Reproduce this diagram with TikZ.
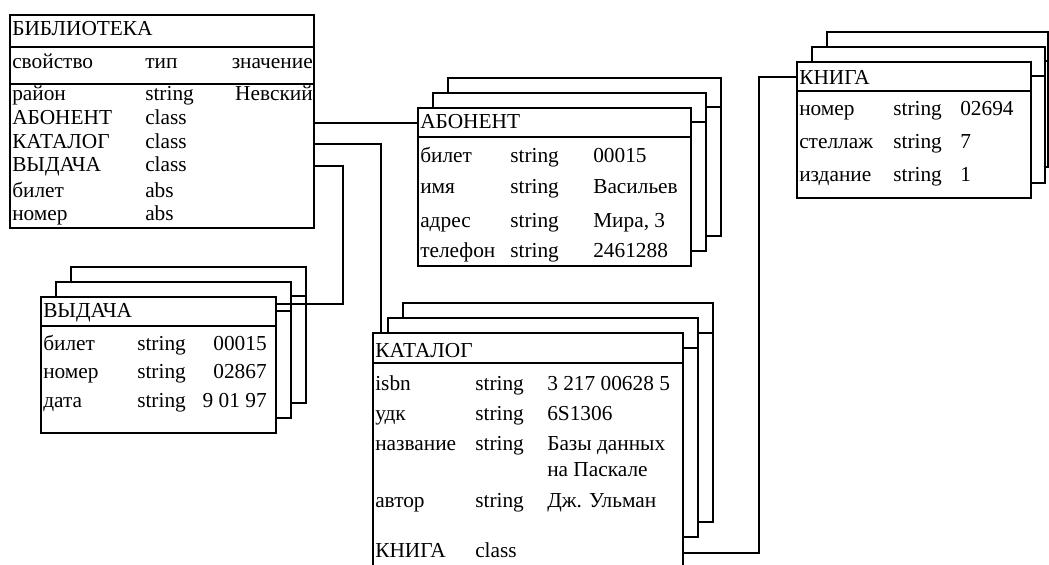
\documentclass[tikz,border=0pt]{standalone}
\usepackage{fontspec}
\setmainfont{Liberation Serif}
\newfontfamily\tnr{Liberation Serif}
\newcommand{\backcard}[5]{%
  \draw[box] (#1,#2) rectangle ++(#3,#4);
  \draw[box] (#1,{#2+#5}) -- ++(#3,0);}
\newcommand{\frontcard}[6]{%
  \node[cell, minimum width={#4*0.75pt}, minimum height={#5*0.75pt}] (#1) at (#2,#3) {};
  \node[cell, minimum width={#4*0.75pt}, minimum height={#6*0.75pt}] (#1H) at (#2,#3) {};}
\begin{document}
\begin{tikzpicture}[x=0.75pt,y=-0.75pt,
  box/.style={draw=black, line width=1.5pt, fill=white},
  cell/.style={draw=black, fill=white, line width=1.5pt, inner sep=0pt, outer sep=0pt, anchor=north west},
  txt/.style={anchor=base west, inner sep=0pt, font=\tnr\fontsize{16}{19}\selectfont},
  txtr/.style={anchor=base east, inner sep=0pt, font=\tnr\fontsize{16}{19}\selectfont},
  wire/.style={draw=black, line width=1.5pt}]
\useasboundingbox (0,0) rectangle (1049,564);
\clip (0,0) rectangle (1049,564);

% ---------- БИБЛИОТЕКА ----------
\frontcard{lib}{10}{15}{304}{213}{32}
\draw[box] (10,84) -- (314,84);
\node[txt] (libT) at (12,36) {БИБЛИОТЕКА};
\node[txt] (lh1) at (12,68) {свойство};
\node[txt] (lh2) at (145,68) {тип};
\node[txtr] (lh3) at (313,68) {значение};
\node[txt] (l1a) at (12,100) {район};
\node[txt] (l1b) at (145,100) {string};
\node[txtr] (l1c) at (313,100) {Невский};
\node[txt] (l2a) at (12,124) {АБОНЕНТ};
\node[txt] (l2b) at (145,124) {class};
\node[txt] (l3a) at (12,148) {КАТАЛОГ};
\node[txt] (l3b) at (145,148) {class};
\node[txt] (l4a) at (12,171) {ВЫДАЧА};
\node[txt] (l4b) at (145,171) {class};
\node[txt] (l5a) at (12,197) {билет};
\node[txt] (l5b) at (145,197) {abs};
\node[txt] (l6a) at (12,220) {номер};
\node[txt] (l6b) at (145,220) {abs};

% ---------- АБОНЕНТ ----------
\backcard{448}{78}{273}{158}{29}
\backcard{433}{93}{273}{158}{29}
\frontcard{abon}{418}{108}{273}{158}{29}
\node[txt] (abT) at (420,128) {АБОНЕНТ};
\node[txt] (a1a) at (420,162) {билет};
\node[txt] (a1b) at (510,162) {string};
\node[txt] (a1c) at (593,162) {00015};
\node[txt] (a2a) at (420,193) {имя};
\node[txt] (a2b) at (510,193) {string};
\node[txt] (a2c) at (593,193) {Васильев};
\node[txt] (a3a) at (420,227) {адрес};
\node[txt] (a3b) at (510,227) {string};
\node[txt] (a3c) at (593,227) {Мира, 3};
\node[txt] (a4a) at (420,257) {телефон};
\node[txt] (a4b) at (510,257) {string};
\node[txt] (a4c) at (593,257) {2461288};

% ---------- КНИГА ----------
\backcard{827}{32}{221}{135}{29}
\backcard{812}{47}{233}{136}{29}
\frontcard{kniga}{797}{62}{234}{136}{29}
\node[txt] (knT) at (799,84) {КНИГА};
\node[txt] (k1a) at (799,115) {номер};
\node[txt] (k1b) at (893,115) {string};
\node[txt] (k1c) at (960,115) {02694};
\node[txt] (k2a) at (799,148) {стеллаж};
\node[txt] (k2b) at (893,148) {string};
\node[txt] (k2c) at (960,148) {7};
\node[txt] (k3a) at (799,181) {издание};
\node[txt] (k3b) at (893,181) {string};
\node[txt] (k3c) at (960,181) {1};

% ---------- ВЫДАЧА ----------
\backcard{71}{267}{235}{136}{29}
\backcard{56}{282}{235}{136}{29}
\frontcard{vyd}{41}{297}{235}{136}{29}
\node[txt] (vT) at (43,317) {ВЫДАЧА};
\node[txt] (v1a) at (43,350) {билет};
\node[txt] (v1b) at (137,350) {string};
\node[txtr] (v1c) at (267,350) {00015};
\node[txt] (v2a) at (43,378) {номер};
\node[txt] (v2b) at (137,378) {string};
\node[txtr] (v2c) at (267,378) {02867};
\node[txt] (v3a) at (43,407) {дата};
\node[txt] (v3b) at (137,407) {string};
\node[txtr] (v3c) at (267,407) {9 01 97};

% ---------- КАТАЛОГ ----------
\backcard{403}{303}{310}{219}{30}
\backcard{388}{318}{310}{219}{30}
\frontcard{kat}{373}{333}{310}{260}{30}
\node[txt] (cT) at (375,357) {КАТАЛОГ};
\node[txt] (c1a) at (375,390) {isbn};
\node[txt] (c1b) at (475,390) {string};
\node[txt] (c1c) at (547,390) {3 217 00628 5};
\node[txt] (c2a) at (375,420) {удк};
\node[txt] (c2b) at (475,420) {string};
\node[txt] (c2c) at (547,420) {6S1306};
\node[txt] (c3a) at (375,450) {название};
\node[txt] (c3b) at (475,450) {string};
\node[txt] (c3c) at (547,450) {Базы данных};
\node[txt] (c3d) at (547,476) {на Паскале};
\node[txt] (c4a) at (375,507) {автор};
\node[txt] (c4b) at (475,507) {string};
\node[txt] (c4c) at (547,507) {Дж. Ульман};
\node[txt] (c5a) at (375,557) {КНИГА};
\node[txt] (c5b) at (475,557) {class};

% ---------- connectors ----------
\coordinate (libA) at (314,123);
\coordinate (libK) at (314,144);
\coordinate (libV) at (314,166);
\coordinate (katIn) at (381,333);
\coordinate (vydIn) at (276,304);
\coordinate (katOut) at (683,553);
\draw[wire] (libA) -- (libA -| abonH.west);
\draw[wire] (libK) -| (katIn);
\draw[wire] (libV) -- ++(29,0) |- (vydIn);
\draw[wire] (katOut) -- ++(76,0) |- (knigaH.west);
\end{tikzpicture}
\end{document}
